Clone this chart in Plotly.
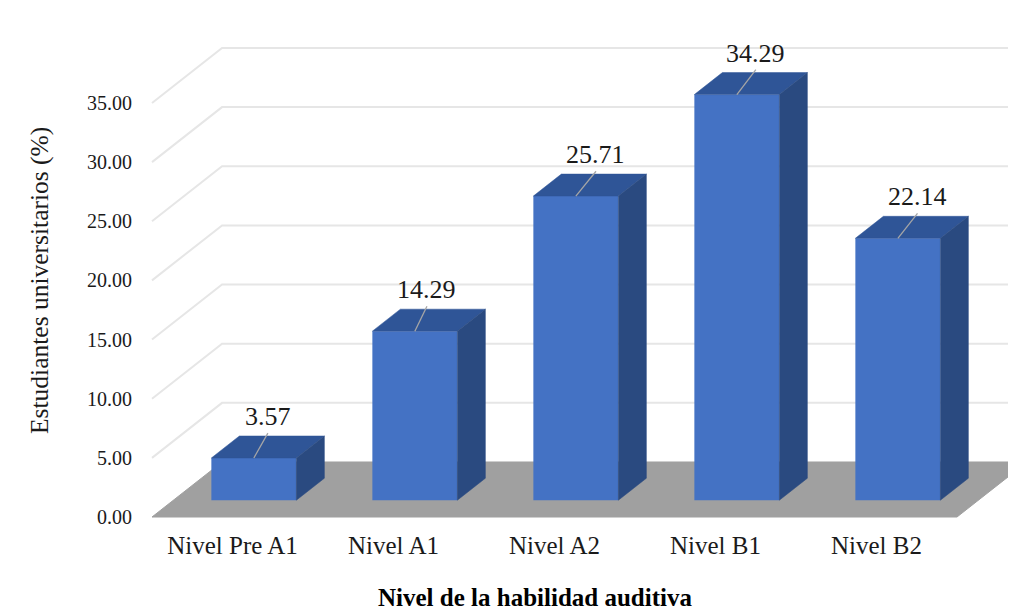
import plotly.graph_objects as go

categories = ["Nivel Pre A1", "Nivel A1", "Nivel A2", "Nivel B1", "Nivel B2"]
values = [3.57, 14.29, 25.71, 34.29, 22.14]
y_ticks = [0, 5, 10, 15, 20, 25, 30, 35]
y_title = "Estudiantes universitarios (%)"
x_title = "Nivel de la habilidad auditiva"

# style and placement settings
DEPTH_X = 0.435   # oblique projection of the chart depth, in axis units
DEPTH_Y = 4.65
BAR_W = 0.528
D0, D1 = 0.305, 0.705
FONT = "Liberation Serif"
TXT = "#1a1a1a"
LABEL_DX = [0.087, 0.075, 0.125, 0.118, 0.122]  # leader-line lean per bar
LEADER_DY = 2.1
M = 8  # page margin around the figure
W, H = 1016 - M, 611 - M
PX_X, PX_Y = 161.0, 11.83  # pixels per axis unit
X0_PX, Y0_PX = 232.5, 517.0  # page position of first category / value 0


def proj(x, y, d):
    return x + d * DEPTH_X, y + d * DEPTH_Y


def path(points):
    return "M " + " L ".join(f"{x},{y}" for x, y in points)


xl, xr = -0.5, 4.5
shapes = []
for t in y_ticks[1:]:
    pts = [proj(xl, t, 0), proj(xl, t, 1), proj(xr, t, 1)]
    shapes.append(dict(type="path", path=path(pts), layer="below", xref="x", yref="y",
                       line=dict(color="#e6e6e6", width=2)))
floor = [proj(xl, 0, 0), proj(xr, 0, 0), proj(xr, 0, 1), proj(xl, 0, 1)]
shapes.append(dict(type="path", path=path(floor) + " Z", layer="below", xref="x", yref="y",
                   fillcolor="#a0a0a0", line=dict(color="#a0a0a0", width=1)))

fig = go.Figure()
fig.add_trace(go.Bar(
    x=[proj(i, 0, D0)[0] for i in range(len(values))],
    y=values,
    base=[proj(0, 0, D0)[1]] * len(values),
    width=BAR_W,
    marker=dict(color="#4472c4", line=dict(width=0)),
    customdata=categories,
    hovertemplate="%{customdata}: %{y:.2f}<extra></extra>",
    showlegend=False,
))


def face(pts, color):
    fig.add_trace(go.Scatter(
        x=[p[0] for p in pts], y=[p[1] for p in pts], mode="lines", fill="toself",
        fillcolor=color, line=dict(color=color, width=0.5), hoverinfo="skip", showlegend=False,
    ))


annotations = []
for i, v in enumerate(values):
    a, b = i - BAR_W / 2, i + BAR_W / 2
    face([proj(a, v, D0), proj(b, v, D0), proj(b, v, D1), proj(a, v, D1), proj(a, v, D0)], "#2f5597")
    face([proj(b, 0, D0), proj(b, v, D0), proj(b, v, D1), proj(b, 0, D1), proj(b, 0, D0)], "#2a4a80")
    p0 = proj(i, v, D0)
    p1 = (p0[0] + LABEL_DX[i], p0[1] + LEADER_DY)
    fig.add_trace(go.Scatter(
        x=[p0[0], p1[0]], y=[p0[1], p1[1]], mode="lines",
        line=dict(color="#a6a6a6", width=1.3), hoverinfo="skip", showlegend=False,
    ))
    annotations.append(dict(x=p1[0], y=p1[1], xref="x", yref="y", text=f"{v:.2f}",
                            showarrow=False, yanchor="bottom", yshift=0,
                            font=dict(family=FONT, size=26, color=TXT)))

annotations.append(dict(x=(535 - M) / W, y=(611 - 597) / H, xref="paper", yref="paper", text=f"<b>{x_title}</b>",
                        showarrow=False, xanchor="center", yanchor="middle",
                        font=dict(family=FONT, size=25, color="#000000")))
annotations.append(dict(x=(39 - M) / W, y=(611 - 281) / H, xref="paper", yref="paper", text=y_title,
                        textangle=-90, showarrow=False, xanchor="center", yanchor="middle",
                        font=dict(family=FONT, size=25.5, color=TXT)))

fig.update_layout(
    width=W, height=H, margin=dict(l=0, r=0, t=0, b=0, pad=0),
    plot_bgcolor="white", paper_bgcolor="white", showlegend=False,
    shapes=shapes, annotations=annotations,
    xaxis=dict(range=[(M - X0_PX) / PX_X, (1016 - X0_PX) / PX_X], tickmode="array",
               tickvals=list(range(len(categories))),
               ticktext=categories, showgrid=False, zeroline=False, showline=False,
               ticks="outside", ticklen=6, tickcolor="rgba(0,0,0,0)",
               anchor="free", position=(611 - Y0_PX) / H,
               tickfont=dict(family=FONT, size=25, color=TXT)),
    yaxis=dict(range=[(Y0_PX - 611) / PX_Y, (Y0_PX - M) / PX_Y], tickmode="array", tickvals=y_ticks,
               ticktext=[f"{t:.2f}" for t in y_ticks], showgrid=False, zeroline=False,
               showline=False, ticks="", anchor="free", position=(132 - M) / W,
               tickfont=dict(family=FONT, size=20, color=TXT)),
)
fig.write_html("out.html")
